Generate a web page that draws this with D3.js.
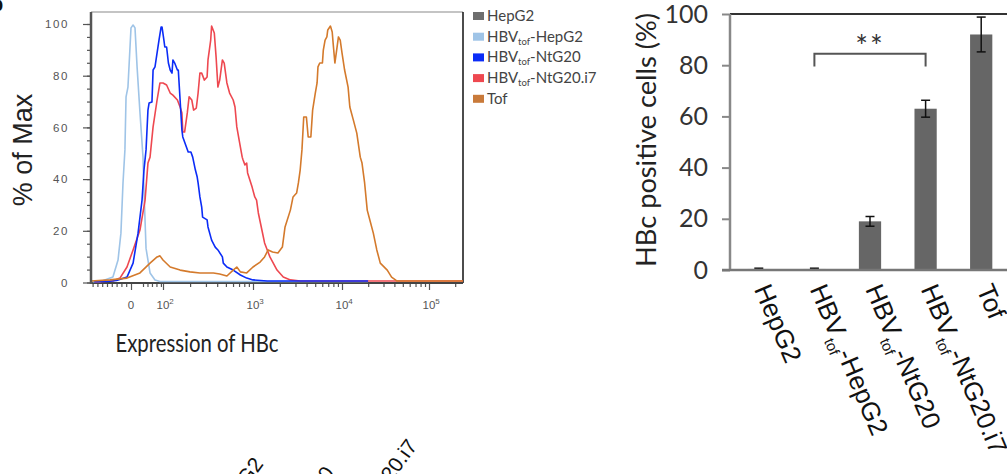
<!DOCTYPE html>
<html>
<head>
<meta charset="utf-8">
<style>
  body { margin: 0; background: #ffffff; }
  svg { display: block; }
  .lat { font-family: Lato, "Open Sans", sans-serif; }
  .ari { font-family: "Liberation Sans", Arial, sans-serif; }
</style>
</head>
<body>
<script src="https://d3js.org/d3.v7.min.js"></script>
<div id="fig"></div>
<script>
// groups shared by legend and bar chart: [main, subscript, rest]
var groupNames = [["HepG2", "", ""], ["HBV", "tof", "-HepG2"], ["HBV", "tof", "-NtG20"], ["HBV", "tof", "-NtG20.i7"], ["Tof", "", ""]];
var groupColors = ["#6e6e6e", "#9fc4e7", "#0b2cf7", "#ee4850", "#c97a3a"];

// bar chart: % HBc positive cells, mean and error
var barValues = [0.4, 0.4, 19, 63, 92];
var barErrors = [0.3, 0.3, 1.9, 3.3, 6.8];

// histograms, x in units of the biexponential axis (0 -> "0", 2 -> 10^2, 3 -> 10^3 ...), y in % of max
var lightBlueCurve = [[-2.4,0.3],[-1.94,0.3],[-1.13,2.1],[-0.81,8.7],[-0.63,19.1],[-0.5,38.5],[-0.38,51.3],[-0.31,71.8],[-0.19,75.6],[0,98.5],[0.13,99.6],[0.25,98.5],[0.38,83.4],[0.56,65.8],[0.75,48.5],[0.81,35.8],[0.94,13.2],[1.19,3.7],[1.5,1.0],[1.81,0.4],[4.3,0.4]];
var blueCurve = [[-2.3,0.3],[-1.5,0.4],[-0.9,0.8],[-0.25,2.1],[0.13,7.5],[0.44,19.1],[0.69,31.9],[0.81,43.5],[0.94,51.3],[1.06,66.7],[1.13,69.4],[1.31,69.8],[1.38,82.2],[1.5,83.4],[1.63,88.8],[1.75,93.8],[1.88,98.8],[1.94,98.8],[2.01,93.8],[2.02,91.1],[2.04,91.1],[2.06,84.9],[2.08,82.2],[2.1,81.0],[2.11,86.1],[2.13,84.9],[2.16,82.2],[2.17,82.2],[2.19,70.6],[2.21,59.0],[2.22,56.3],[2.26,52.4],[2.28,50.5],[2.31,50.5],[2.33,48.5],[2.36,43.5],[2.38,40.8],[2.39,38.5],[2.41,33.1],[2.43,29.2],[2.44,25.3],[2.49,24.2],[2.5,21.5],[2.54,16.4],[2.58,13.7],[2.61,12.6],[2.66,9.9],[2.67,7.5],[2.71,6.0],[2.78,4.8],[2.86,2.9],[2.93,1.7],[3.0,1.0],[3.16,0.6],[4.3,0.6]];
var redCurve = [[-2.25,0.2],[-1.13,0.6],[-0.69,1.7],[-0.25,6.0],[0.13,12.6],[0.56,20.3],[0.88,31.9],[1.06,46.2],[1.19,48.5],[1.38,60.2],[1.63,70.6],[1.81,77.2],[2.0,77.2],[2.04,76.4],[2.08,73.3],[2.11,72.5],[2.16,70.6],[2.19,67.9],[2.21,65.6],[2.22,58.2],[2.24,58.2],[2.27,65.6],[2.29,71.8],[2.32,70.6],[2.34,66.7],[2.37,67.5],[2.39,73.3],[2.41,81.0],[2.43,81.0],[2.46,78.3],[2.49,79.5],[2.5,86.1],[2.53,93.8],[2.54,99.2],[2.57,96.5],[2.59,87.2],[2.61,75.6],[2.63,78.3],[2.66,86.1],[2.68,84.9],[2.71,77.2],[2.74,73.3],[2.78,70.6],[2.8,67.9],[2.82,60.2],[2.86,52.4],[2.88,48.5],[2.89,47.4],[2.91,45.5],[2.93,46.2],[2.94,42.4],[2.99,36.9],[3.02,33.1],[3.04,31.9],[3.06,26.9],[3.1,20.3],[3.13,15.3],[3.19,9.9],[3.27,4.8],[3.34,2.1],[3.42,1.0],[3.53,0.6],[5.39,0.6]];
var orangeCurve = [[-2.5,0.6],[-1.31,1.0],[-0.25,1.7],[0.56,3.7],[1.19,7.5],[1.63,9.9],[1.81,10.3],[2.0,8.7],[2.08,6.0],[2.19,4.8],[2.3,4.1],[2.41,3.7],[2.56,3.7],[2.63,3.3],[2.71,2.5],[2.78,4.8],[2.82,6.0],[2.86,4.1],[2.93,3.7],[3.0,6.0],[3.08,7.9],[3.13,9.9],[3.17,12.6],[3.22,11.8],[3.28,11.4],[3.33,13.7],[3.36,21.5],[3.42,28.0],[3.45,33.1],[3.49,34.6],[3.51,38.5],[3.53,43.5],[3.55,51.3],[3.57,64.0],[3.6,64.0],[3.62,56.3],[3.65,56.3],[3.67,66.7],[3.7,73.3],[3.72,77.2],[3.73,83.4],[3.75,84.9],[3.78,84.9],[3.79,89.9],[3.81,93.8],[3.83,95.0],[3.84,97.7],[3.87,99.2],[3.89,96.9],[3.9,92.7],[3.92,84.9],[3.94,89.9],[3.96,95.0],[3.98,93.8],[4.0,88.8],[4.03,82.2],[4.07,75.6],[4.09,67.9],[4.13,62.9],[4.17,57.8],[4.21,48.5],[4.23,46.2],[4.26,38.5],[4.29,28.0],[4.32,24.2],[4.36,19.1],[4.4,12.6],[4.44,7.5],[4.52,4.8],[4.57,2.1],[4.63,0.6],[5.39,0.6]];

var xMajor = [0, 2, 3, 4, 5];
var xMajorLabels = [["0", ""], ["10", "2"], ["10", "3"], ["10", "4"], ["10", "5"]];

var width = 1007, height = 474;

var svg = d3.select("#fig").append("svg")
    .attr("width", width)
    .attr("height", height);

function richText(sel, parts, subSize, shift) {
  sel.append("tspan").text(parts[0]);
  if (parts[1]) {
    sel.append("tspan").attr("font-size", subSize).attr("dy", shift).text(parts[1]);
    sel.append("tspan").attr("dy", -shift).text(parts[2]);
  }
}

// ================= histogram =================
var hBox = {l: 91, r: 463, t: 12, b: 283};
var hx = d3.scaleLinear().domain(xMajor).range([131, 163, 253, 342, 429]);
var hy = d3.scaleLinear().domain([0, 100]).range([282.5, 24]);

var hg = svg.append("g");

// panel letter, cut at the edge
hg.append("text").attr("class", "ari").attr("font-size", 20).attr("font-weight", "bold").attr("fill", "#111")
    .attr("x", -9).attr("y", 11).text("b");

// y ticks
var yMinor = hg.append("g").attr("transform", "translate(" + hBox.l + ",0)")
    .call(d3.axisLeft(hy).tickValues(d3.range(0, 101, 5)).tickSize(4).tickFormat(""));
var yMaj = hg.append("g").attr("transform", "translate(" + hBox.l + ",0)")
    .call(d3.axisLeft(hy).tickValues(d3.range(0, 101, 20)).tickSize(8).tickPadding(14));
hg.selectAll(".domain").remove();
yMaj.selectAll("text").attr("class", "ari").style("font-size", "11.5px").style("fill", "#555").style("letter-spacing", "1.6px");

// x ticks: linear part near zero, log minors above 10^2
var xMinor = d3.range(-2.4, -0.1, 0.3).concat(d3.range(0.75, 1.95, 0.28));
[2, 3, 4].forEach(function (e) {
  d3.range(2, 10).forEach(function (k) { xMinor.push(Math.log10(k) + e); });
});
xMinor.push(5 + Math.log10(2));
hg.append("g").attr("transform", "translate(0," + hBox.b + ")")
    .call(d3.axisBottom(hx).tickValues(xMinor).tickSize(4).tickFormat("").tickSizeOuter(0))
    .select(".domain").remove();
hg.append("g").attr("transform", "translate(0," + hBox.b + ")")
    .call(d3.axisBottom(hx).tickValues(xMajor).tickSize(7).tickFormat("").tickSizeOuter(0))
    .select(".domain").remove();
hg.selectAll(".tick line").attr("stroke", "#555").attr("stroke-width", 1.2);

xMajor.forEach(function (v, i) {
  var lab = xMajorLabels[i];
  var t = hg.append("text").attr("class", "ari").attr("font-size", 11.5).attr("fill", "#555")
      .attr("y", 309)
      .attr("x", lab[1] ? hx(v) - 6.5 : hx(v))
      .attr("text-anchor", lab[1] ? "start" : "middle");
  t.append("tspan").text(lab[0]);
  if (lab[1]) t.append("tspan").attr("font-size", 8).attr("dy", -5).text(lab[1]);
});

// frame
hg.append("line").attr("x1", hBox.l).attr("x2", hBox.r).attr("y1", hBox.t).attr("y2", hBox.t).attr("stroke", "#b0b0b0").attr("stroke-width", 1.5);
hg.append("line").attr("x1", hBox.r).attr("x2", hBox.r).attr("y1", hBox.t).attr("y2", hBox.b).attr("stroke", "#111").attr("stroke-width", 1.5);
hg.append("line").attr("x1", hBox.l).attr("x2", hBox.r).attr("y1", hBox.b).attr("y2", hBox.b).attr("stroke", "#444").attr("stroke-width", 2);

// curves
var line = d3.line().x(function (d) { return hx(d[0]); }).y(function (d) { return hy(d[1]); });
var curves = [[lightBlueCurve, groupColors[1]], [redCurve, groupColors[3]], [blueCurve, groupColors[2]], [orangeCurve, "#d47a2c"]];
curves.forEach(function (c) {
  hg.append("path").datum(c[0]).attr("d", line)
    .attr("fill", "none").attr("stroke", c[1]).attr("stroke-width", 1.6).attr("stroke-linejoin", "round");
});

hg.append("line").attr("x1", hBox.l).attr("x2", hBox.l).attr("y1", hBox.t).attr("y2", hBox.b + 1).attr("stroke", "#555").attr("stroke-width", 2.5);

// titles
hg.append("text").attr("class", "ari").attr("font-size", 27).attr("fill", "#222")
    .attr("text-anchor", "middle")
    .attr("transform", "translate(32,150) rotate(-90)")
    .text("% of Max");
hg.append("text").attr("class", "lat").attr("font-size", 25).attr("fill", "#222")
    .attr("text-anchor", "middle").attr("x", 197).attr("y", 352)
    .attr("textLength", 163).attr("lengthAdjust", "spacingAndGlyphs")
    .text("Expression of HBc");

// legend
var leg = svg.append("g").attr("transform", "translate(473,16)");
groupNames.forEach(function (n, i) {
  var row = leg.append("g").attr("transform", "translate(0," + (i * 20.7) + ")");
  row.append("rect").attr("x", 0).attr("y", -4).attr("width", 11).attr("height", 8).attr("fill", groupColors[i]);
  var t = row.append("text").attr("class", "lat").attr("x", 14).attr("y", 5).attr("font-size", 15).attr("fill", "#444");
  richText(t, n, 9.5, 3);
});

// ================= bar chart =================
var barKeys = groupNames.map(function (n) { return n.join(""); });
var bx = d3.scaleBand().domain(barKeys).range([731, 1009]).paddingInner(0.6).paddingOuter(0.3);
var by = d3.scaleLinear().domain([0, 100]).range([270, 14]);

var bg = svg.append("g");

var yb = bg.append("g").attr("transform", "translate(730,0)")
    .call(d3.axisLeft(by).tickValues(d3.range(0, 101, 20)).tickSize(8).tickPadding(14));
yb.select(".domain").remove();
yb.selectAll(".tick line").attr("stroke", "#888").attr("stroke-width", 2);
yb.selectAll("text").attr("class", "lat").style("font-size", "25px").style("fill", "#333");

bg.selectAll("rect.bar").data(barValues).enter().append("rect")
    .attr("class", "bar")
    .attr("x", function (d, i) { return bx(barKeys[i]); })
    .attr("y", function (d) { return by(d); })
    .attr("width", bx.bandwidth())
    .attr("height", function (d) { return by(0) - by(d); })
    .attr("fill", "#666666");

// error bars
barValues.forEach(function (v, i) {
  var cx = bx(barKeys[i]) + bx.bandwidth() / 2;
  var hi = by(v + barErrors[i]), lo = by(Math.max(0, v - barErrors[i]));
  bg.append("line").attr("x1", cx).attr("x2", cx).attr("y1", hi).attr("y2", lo).attr("stroke", "#111").attr("stroke-width", 1.5);
  bg.append("line").attr("x1", cx - 4.5).attr("x2", cx + 4.5).attr("y1", hi).attr("y2", hi).attr("stroke", "#111").attr("stroke-width", 1.5);
  bg.append("line").attr("x1", cx - 4.5).attr("x2", cx + 4.5).attr("y1", lo).attr("y2", lo).attr("stroke", "#111").attr("stroke-width", 1.5);
});

// axes frame
bg.append("line").attr("x1", 730).attr("x2", width).attr("y1", by(100)).attr("y2", by(100)).attr("stroke", "#333").attr("stroke-width", 2);
bg.append("line").attr("x1", 730).attr("x2", 730).attr("y1", by(100)).attr("y2", by(0)).attr("stroke", "#888").attr("stroke-width", 2.5);
bg.append("line").attr("x1", 722).attr("x2", width).attr("y1", by(0)).attr("y2", by(0)).attr("stroke", "#777").attr("stroke-width", 2.5);

// significance bracket between groups 2 and 4
var b1 = bx(barKeys[1]) + bx.bandwidth() / 2, b2 = bx(barKeys[3]) + bx.bandwidth() / 2;
bg.append("path")
    .attr("d", "M" + b1 + "," + by(79.5) + "V" + by(84.5) + "H" + b2 + "V" + by(79.5))
    .attr("fill", "none").attr("stroke", "#555").attr("stroke-width", 2);
bg.append("text").attr("class", "lat").attr("font-size", 30).attr("fill", "#333")
    .attr("text-anchor", "middle").attr("x", (b1 + b2) / 2).attr("y", 57)
    .style("letter-spacing", "2px")
    .text("**");

bg.append("text").attr("class", "lat").attr("font-size", 26).attr("fill", "#222")
    .attr("text-anchor", "middle")
    .attr("transform", "translate(656,140) rotate(-90)")
    .attr("textLength", 254).attr("lengthAdjust", "spacingAndGlyphs")
    .text("HBc positive cells (%)");

// rotated category labels
barKeys.forEach(function (k, i) {
  var t = bg.append("text").attr("class", "ari").attr("font-size", 26).attr("fill", "#111")
      .attr("transform", "translate(" + (bx(k) + bx.bandwidth() / 2 - 5) + ",289) rotate(67)");
  richText(t, groupNames[i], 15, 7);
});

// clipped labels of a neighbouring panel at the bottom edge
[[264, 464], [335, 473], [418, 446]].forEach(function (p, i) {
  var t = svg.append("text").attr("class", "ari").attr("font-size", 21).attr("fill", "#111")
      .attr("text-anchor", "end")
      .attr("transform", "translate(" + p[0] + "," + p[1] + ") rotate(-54)");
  richText(t, groupNames[i + 1], 12, 6);
});
</script>
</body>
</html>
